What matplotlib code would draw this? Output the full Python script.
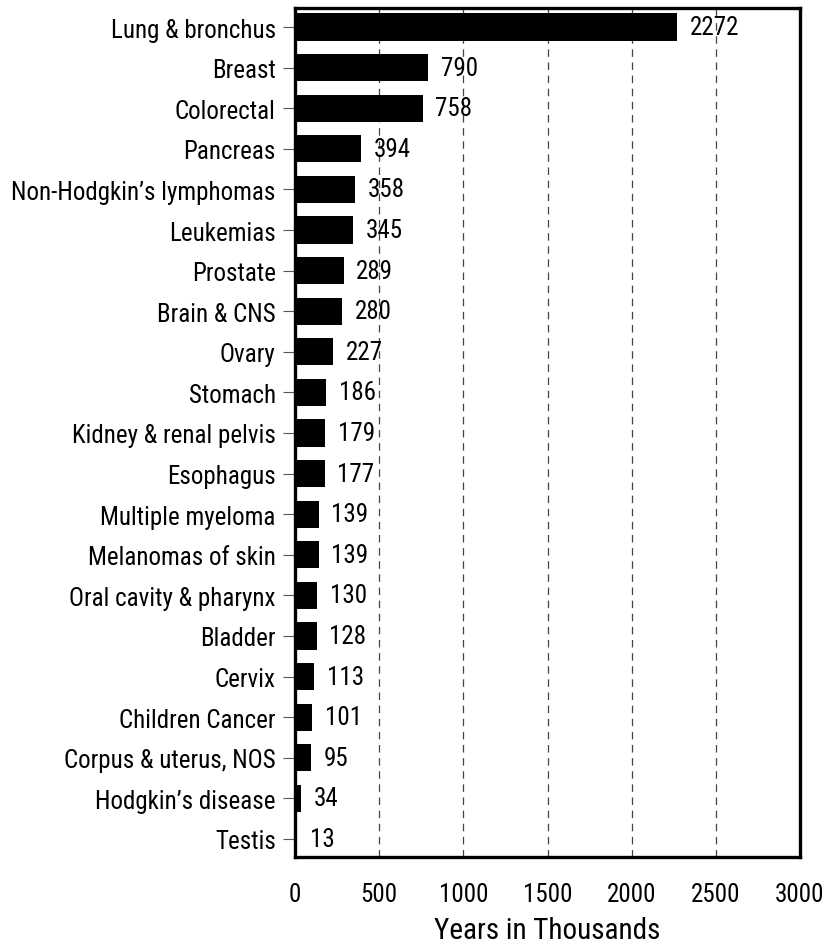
import matplotlib
matplotlib.use("Agg")
import matplotlib.pyplot as plt

plt.rcParams["font.family"] = ["Roboto Condensed", "DejaVu Sans"]

sites = ["Lung & bronchus", "Breast", "Colorectal", "Pancreas",
         "Non-Hodgkin\u2019s lymphomas", "Leukemias", "Prostate", "Brain & CNS",
         "Ovary", "Stomach", "Kidney & renal pelvis", "Esophagus",
         "Multiple myeloma", "Melanomas of skin", "Oral cavity & pharynx",
         "Bladder", "Cervix", "Children Cancer", "Corpus & uterus, NOS",
         "Hodgkin\u2019s disease", "Testis"]
years = [2272, 790, 758, 394, 358, 345, 289, 280, 227, 186, 179, 177,
         139, 139, 130, 128, 113, 101, 95, 34, 13]
xticks = [0, 500, 1000, 1500, 2000, 2500, 3000]

fig = plt.figure(figsize=(8.28, 9.53), dpi=100)
ax = fig.add_axes([0.3565, 0.0995, 0.6095, 0.8915])

pos = list(range(len(sites)))
ax.barh(pos, years, height=0.67, color="black", zorder=6)
for p, v in zip(pos, years):
    ax.annotate(str(v), (v, p), xytext=(9, 0), textcoords="offset points",
                va="center", ha="left", fontsize=18, zorder=7)

ax.set_xlim(0, 3000)
ax.set_ylim(len(sites) - 1 + 0.45, -0.48)
ax.set_xticks(xticks)
ax.set_yticks(pos)
ax.set_yticklabels(sites, fontsize=18)
ax.tick_params(axis="x", length=0, pad=18, labelsize=18)
ax.tick_params(axis="y", length=9, width=0.8, color="#555555", pad=5)
for x in xticks[1:-1]:
    ax.axvline(x, color="#444444", lw=0.9, ls=(0, (6, 4.5)), zorder=1)
for s in ax.spines.values():
    s.set_linewidth(2.4)
    s.set_zorder(5)
ax.set_xlabel("Years in Thousands", fontsize=21, labelpad=7)

fig.savefig("out.png", dpi=100)
